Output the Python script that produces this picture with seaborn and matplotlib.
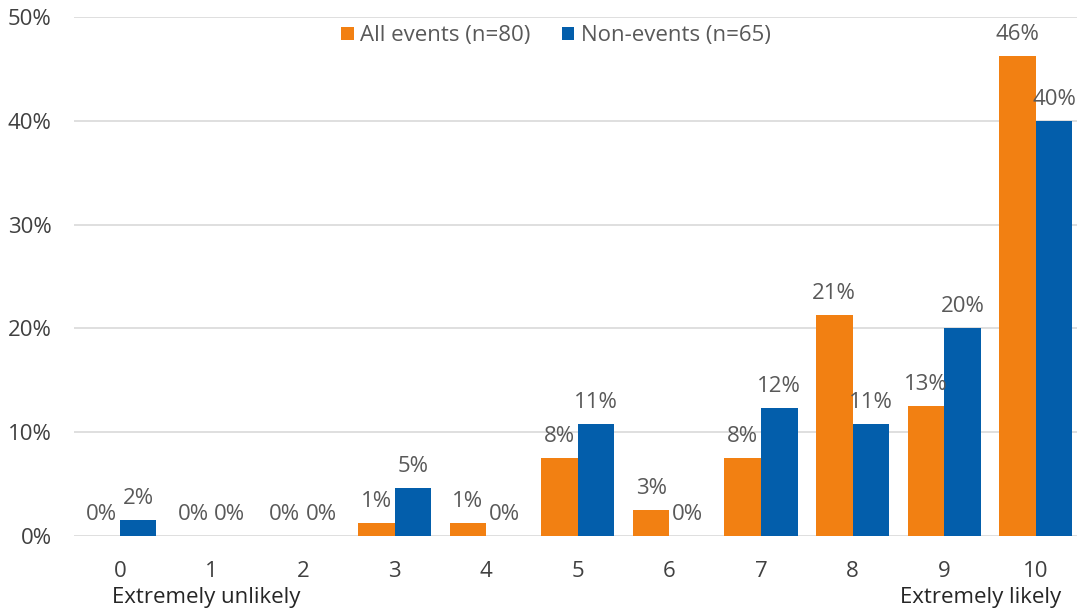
import math
import pandas as pd
import matplotlib
matplotlib.use('Agg')
import matplotlib.pyplot as plt
import seaborn as sns

# likelihood score 0..10
scores = ['0', '1', '2', '3', '4', '5', '6', '7', '8', '9', '10']
all_events = [0, 0, 0, 1.25, 1.25, 7.5, 2.5, 7.5, 21.25, 12.5, 46.25]
non_events = [1.54, 0, 0, 4.62, 0, 10.77, 0, 12.31, 10.77, 20.0, 40.0]
series_names = ['All events (n=80)', 'Non-events (n=65)']
y_ticks = [0, 10, 20, 30, 40, 50]

orange = '#F28012'
blue = '#035EAB'

df = pd.DataFrame({
    'score': scores * 2,
    'pct': all_events + non_events,
    'group': [series_names[0]] * len(scores) + [series_names[1]] * len(scores),
})

sns.set_style('white')
plt.rcParams['font.family'] = ['Open Sans', 'DejaVu Sans']
fs = 16

fig = plt.figure(figsize=(10.77, 6.10), dpi=100)
ax = fig.add_axes([74 / 1077, 74 / 610, 1003 / 1077, 519 / 610])

sns.barplot(data=df, x='score', y='pct', hue='group', palette=[orange, blue],
            saturation=1, ax=ax, width=0.8, edgecolor='none', zorder=3)

ax.set_ylim(0, 50)
ax.set_xlim(-0.5, 10.45)
ax.set_yticks(y_ticks)
ax.set_yticklabels([f'{t}%' for t in y_ticks])
ax.yaxis.grid(True, color='#D9D9D9', linewidth=1.2, zorder=0)
ax.set_axisbelow(True)
for s in ax.spines.values():
    s.set_visible(False)
ax.tick_params(axis='both', length=0, labelsize=fs, labelcolor='#404040')
ax.tick_params(axis='y', pad=16)
ax.tick_params(axis='x', pad=18)
ax.set_xlabel('')
ax.set_ylabel('')

def half_up(v):
    return f'{int(math.floor(v + 0.5))}%'

for cont, vals in zip(ax.containers, [all_events, non_events]):
    ax.bar_label(cont, labels=[half_up(v) for v in vals], padding=8,
                 fontsize=fs, color='#595959')

ax.text(-0.08, -0.118, 'Extremely unlikely', transform=ax.get_xaxis_transform(),
        ha='left', va='center', fontsize=fs, color='#262626')
ax.text(10.28, -0.118, 'Extremely likely', transform=ax.get_xaxis_transform(),
        ha='right', va='center', fontsize=fs, color='#262626')

ax.legend(loc='center', bbox_to_anchor=(482 / 1003, 0.964), ncol=2, frameon=False,
          fontsize=fs, labelcolor='#595959', handlelength=0.55, handleheight=0.55,
          handletextpad=0.3, columnspacing=1.4)

fig.savefig('out.png', dpi=100)
